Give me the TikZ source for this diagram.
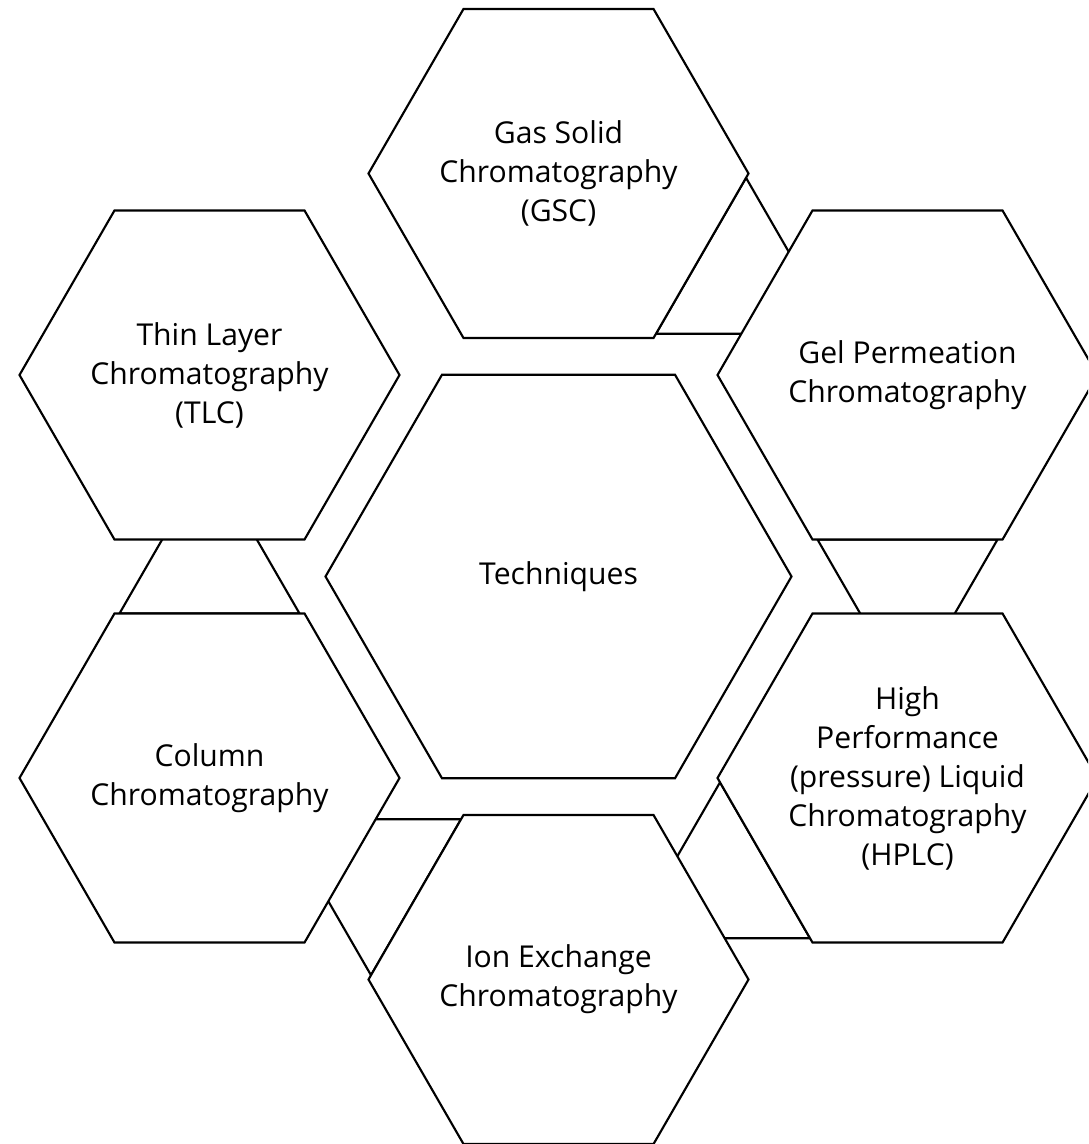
\documentclass[tikz,border=0pt]{standalone}
\usepackage{fontspec}
\setmainfont{Open Sans}
\usetikzlibrary{shapes.geometric,calc,backgrounds}
\begin{document}
\begin{tikzpicture}[x=0.75pt,y=-0.75pt,
  hexbase/.style={regular polygon, regular polygon sides=6, draw=black,
    line width=1.6pt, fill=white, inner sep=-30pt, outer sep=0pt,
    align=center, font=\fontsize{22.6}{29.25}\selectfont},
  outerhex/.style={hexbase, minimum size=285pt},
  centerhex/.style={hexbase, minimum size=349.5pt},
  linkshape/.style={draw=black, line width=1.6pt, fill=white, line join=miter}
]
\path[use as bounding box] (0,0) rectangle (1088,1144);
\clip (0,0) rectangle (1088,1144);
\coordinate (c) at (558.5,576.5);
% hexagons
\node[centerhex] (tech) at (c) {Techniques};
\node[outerhex] (gsc)  at ($(c)+(0,-403)$)      {Gas Solid\\Chromatography\\(GSC)};
\node[outerhex] (gel)  at ($(c)+(349,-201.5)$)  {Gel Permeation\\Chromatography};
\node[outerhex] (hplc) at ($(c)+(349,201.5)$)   {High\\Performance\\(pressure) Liquid\\Chromatography\\(HPLC)};
\node[outerhex] (ion)  at ($(c)+(0,403)$)       {Ion Exchange\\Chromatography};
\node[outerhex] (col)  at ($(c)+(-349,201.5)$)  {Column\\Chromatography};
\node[outerhex] (tlc)  at ($(c)+(-349,-201.5)$) {Thin Layer\\Chromatography\\(TLC)};
% connector triangles, partly hidden behind the hexagons
\begin{scope}[on background layer]
  % TLC -- Column
  \coordinate (l1v) at ($(col.120)!3.75pt!(col.60)$);
  \coordinate (l1p) at ($(col.120)!138.75pt!(col.60)$);
  \draw[linkshape] (l1v) -- (l1p) -- ($(l1v)!1!60:(l1p)$) -- cycle;
  % Column -- Ion
  \coordinate (l2v) at ($(ion.180)!3.75pt!(ion.120)$);
  \coordinate (l2p) at ($(ion.180)!138.75pt!(ion.120)$);
  \draw[linkshape] (l2v) -- (l2p) -- ($(l2v)!1!60:(l2p)$) -- cycle;
  % Ion -- HPLC
  \coordinate (l3v) at ($(hplc.240)!3.75pt!(hplc.180)$);
  \coordinate (l3p) at ($(hplc.240)!138.75pt!(hplc.180)$);
  \draw[linkshape] (l3v) -- (l3p) -- ($(l3v)!1!60:(l3p)$) -- cycle;
  % HPLC -- Gel
  \coordinate (l4v) at ($(gel.300)!3.75pt!(gel.240)$);
  \coordinate (l4p) at ($(gel.300)!138.75pt!(gel.240)$);
  \draw[linkshape] (l4v) -- (l4p) -- ($(l4v)!1!60:(l4p)$) -- cycle;
  % Gel -- GSC
  \coordinate (l5v) at ($(gsc.0)!3.75pt!(gsc.300)$);
  \coordinate (l5p) at ($(gsc.0)!138.75pt!(gsc.300)$);
  \draw[linkshape] (l5v) -- (l5p) -- ($(l5v)!1!60:(l5p)$) -- cycle;
\end{scope}
\end{tikzpicture}
\end{document}
